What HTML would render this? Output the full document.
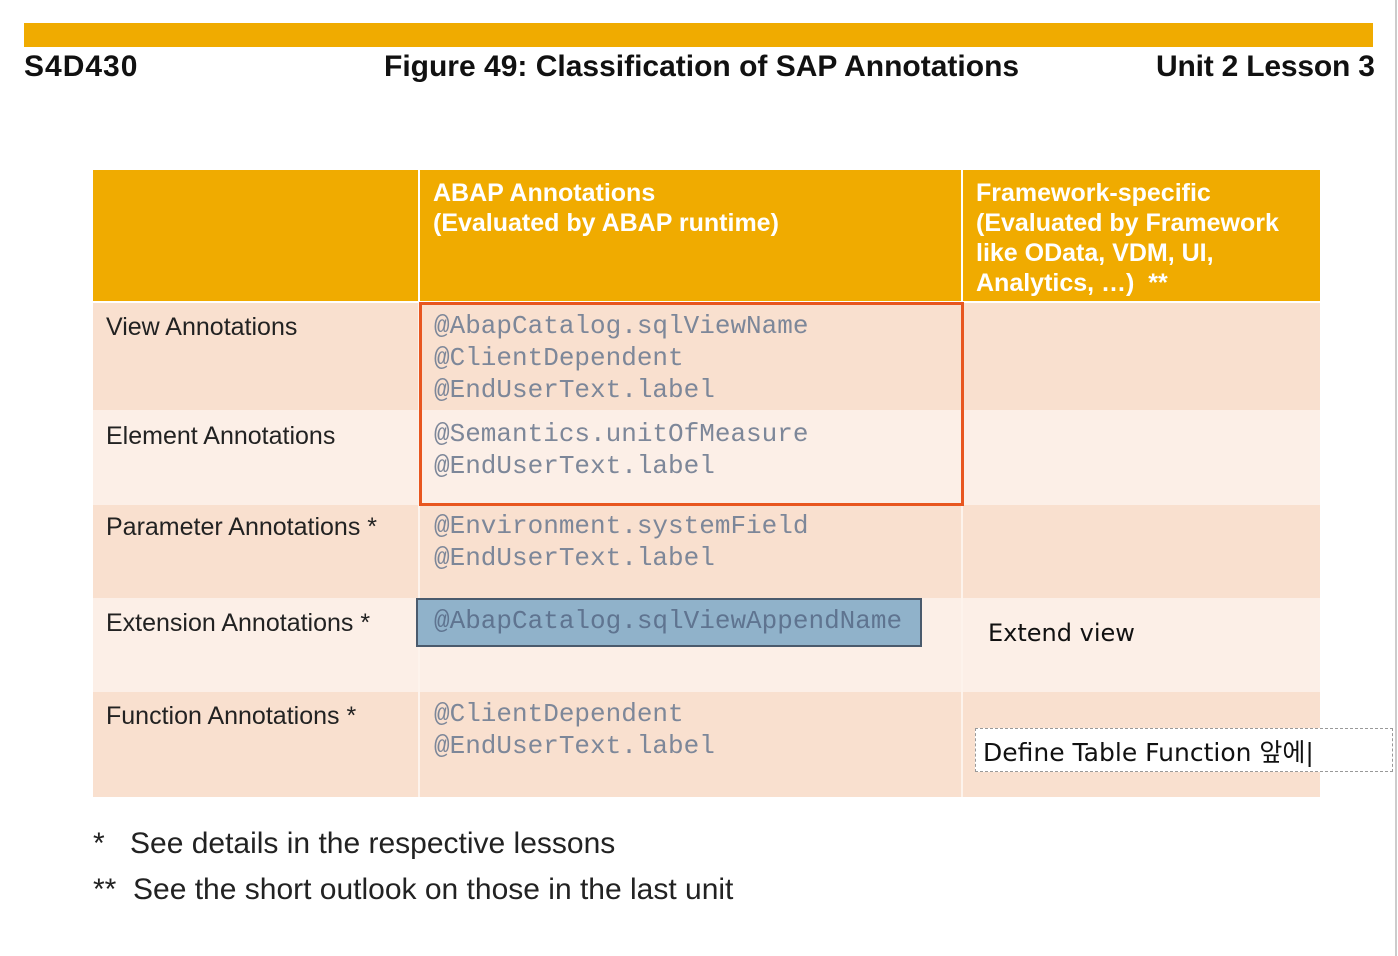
<!DOCTYPE html>
<html><head><meta charset="utf-8"><style>
body{margin:0;width:1398px;height:956px;background:#fff;position:relative;overflow:hidden;font-family:"Liberation Sans",sans-serif}
div{position:absolute;box-sizing:border-box}
.h{font-weight:bold;font-size:30px;top:50px;color:#111}
.c{background:#f0ab00}
.d{background:#f9e0cf}.l{background:#fcefe7}
.lab{font-size:25px;color:#222;left:106px}
.m{font-family:"Liberation Mono",monospace;font-size:26px;color:#7d8799;left:434px;line-height:32px;white-space:pre}
.ht{color:#fff;font-weight:bold;font-size:25px;line-height:30px}
</style></head><body>
<div style="left:24px;top:23px;width:1349px;height:24px;background:#f0ab00"></div>
<div class="h" style="left:24px;letter-spacing:1px">S4D430</div>
<div class="h" style="left:384px">Figure 49: Classification of SAP Annotations</div>
<div class="h" style="left:1156px;letter-spacing:-0.2px">Unit 2 Lesson 3</div>
<div style="left:1395px;top:0;width:2px;height:956px;background:#ccc"></div>

<div class="c" style="left:93px;top:170px;width:325px;height:131px"></div>
<div class="c" style="left:420px;top:170px;width:541px;height:131px"></div>
<div class="c" style="left:963px;top:170px;width:357px;height:131px"></div>
<div class="ht" style="left:433px;top:178px">ABAP Annotations<br>(Evaluated by ABAP runtime)</div>
<div class="ht" style="left:976px;top:178px">Framework-specific<br>(Evaluated by Framework<br>like OData, VDM, UI,<br>Analytics, …)&nbsp; **</div>

<div class="d" style="left:93px;top:303px;width:1227px;height:107px"></div>
<div class="l" style="left:93px;top:410px;width:1227px;height:95px"></div>
<div class="d" style="left:93px;top:505px;width:1227px;height:93px"></div>
<div class="l" style="left:93px;top:598px;width:1227px;height:94px"></div>
<div class="d" style="left:93px;top:692px;width:1227px;height:105px"></div>
<div style="left:418px;top:303px;width:2px;height:494px;background:#fdf3ec"></div>
<div style="left:961px;top:303px;width:2px;height:494px;background:#fdf3ec"></div>

<div class="lab" style="top:313px">View Annotations</div>
<div class="lab" style="top:422px">Element Annotations</div>
<div class="lab" style="top:513px">Parameter Annotations *</div>
<div class="lab" style="top:609px">Extension Annotations *</div>
<div class="lab" style="top:702px">Function Annotations *</div>

<div class="m" style="top:310px">@AbapCatalog.sqlViewName
@ClientDependent
@EndUserText.label</div>
<div class="m" style="top:418px">@Semantics.unitOfMeasure
@EndUserText.label</div>
<div class="m" style="top:510px">@Environment.systemField
@EndUserText.label</div>
<div class="m" style="top:698px">@ClientDependent
@EndUserText.label</div>
<div style="left:419px;top:302px;width:545px;height:204px;border:3px solid #e8561f"></div>
<div style="left:416px;top:598px;width:506px;height:49px;background:#90b2ca;border:2px solid #4a5a6c"></div>
<div class="m" style="top:605px;color:#5f7490">@AbapCatalog.sqlViewAppendName</div>

<div style="left:988px;top:619px;font-family:'DejaVu Sans',sans-serif;font-size:24px;color:#111">Extend view</div>
<div style="left:975px;top:728px;width:418px;height:44px;background:#fff;border:1px dashed #999"></div>
<div style="left:983px;top:733px;font-family:'DejaVu Sans','Noto Sans CJK KR',sans-serif;font-size:25px;color:#111">Define Table Function 앞에|</div>

<div style="left:93px;top:827px;font-size:30px;color:#222">*</div>
<div style="left:130px;top:827px;font-size:30px;color:#222">See details in the respective lessons</div>
<div style="left:93px;top:873px;font-size:30px;color:#222">**</div>
<div style="left:133px;top:873px;font-size:30px;color:#222">See the short outlook on those in the last unit</div>
</body></html>
